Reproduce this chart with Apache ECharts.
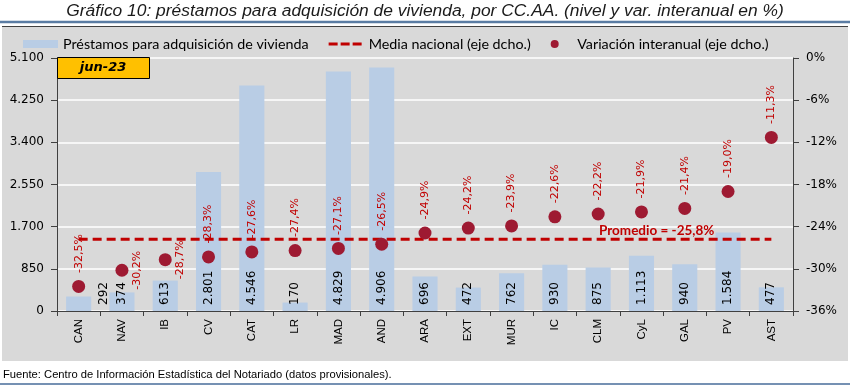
<!DOCTYPE html>
<html><head><meta charset="utf-8">
<script src="https://cdn.jsdelivr.net/npm/echarts@6/dist/echarts.min.js"></script>
<style>html,body{margin:0;padding:0;background:#fff}#c{width:850px;height:386px}</style>
</head><body><div id="c"></div>
<script>
const categories = ['CAN','NAV','IB','CV','CAT','LR','MAD','AND','ARA','EXT','MUR','IC','CLM','CyL','GAL','PV','AST'];
const prestamos = [292,374,613,2801,4546,170,4829,4906,696,472,762,930,875,1113,940,1584,477];
const variacion = [-32.5,-30.2,-28.7,-28.3,-27.6,-27.4,-27.1,-26.5,-24.9,-24.2,-23.9,-22.6,-22.2,-21.9,-21.4,-19.0,-11.3];
const mediaNacional = -25.8;
const leftTicks = {min:0, max:5100, interval:850};
const rightTicks = {min:-36, max:0, interval:6};

const fmtThousands = v => String(v).replace(/\B(?=(\d{3})+(?!\d))/g, '.');
const fmtPct = v => v.toFixed(1).replace('.', ',') + '%';
const RED = '#c00000', DOT = '#9e1a32', BAR = '#b9cde5';

const chart = echarts.init(document.getElementById('c'), null, {renderer:'canvas'});

const barData = prestamos.map((v,i) => i === 0
  ? {value:v, label:{offset:[0,25]}}
  : v);
const dotData = variacion.map((v,i) => (i === 1 || i === 2)
  ? {value:v, label:{position:'right', distance:3, align:'center', verticalAlign:'top'}}
  : v);

const dashIcon = 'path://M0,0h0.01v8h-0.01z M0,2.5h9v3h-9z M12,2.5h9v3h-9z M24,2.5h9v3h-9z M34.99,0h0.01v8h-0.01z';

chart.setOption({
  animation:false,
  backgroundColor:'#ffffff',
  graphic:[
    {type:'rect', shape:{x:2,y:26,width:846,height:335}, style:{fill:'#d9d9d9'}, z:-10, silent:true},
    {type:'line', shape:{x1:2,y1:26.5,x2:848,y2:26.5}, style:{stroke:'#404040', lineWidth:1}, z:-9},
    {type:'line', shape:{x1:0,y1:22,x2:850,y2:22}, style:{stroke:'#5a7ca3', lineWidth:2.5}},
    {type:'line', shape:{x1:0,y1:384,x2:850,y2:384}, style:{stroke:'#7591b3', lineWidth:2}},
    {type:'text', left:'center', top:3, style:{text:'Gráfico 10: préstamos para adquisición de vivienda, por CC.AA. (nivel y var. interanual en %)', font:'italic 17.4px "Liberation Sans Narrow", "Liberation Sans", Arial', fill:'#1a1a1a'}},
    {type:'text', left:3, top:369, style:{text:'Fuente: Centro de Información Estadística del Notariado (datos provisionales).', font:'11.2px "Liberation Sans Narrow", "Liberation Sans", Arial', fill:'#000'}},
    {type:'rect', shape:{x:57.5,y:57.5,width:92,height:21}, style:{fill:'#ffc000', stroke:'#000', lineWidth:1}, z:10},
    {type:'text', x:103, y:68, style:{text:'jun-23', font:'italic bold 13px "DejaVu Sans", Verdana', fill:'#000', align:'center', verticalAlign:'middle'}, z:11}
  ],
  legend:{
    top:32, left:18, itemWidth:35, itemHeight:8, itemGap:20,
    textStyle:{fontFamily:'Lato', fontSize:14.3, color:'#000'},
    data:[
      {name:'Préstamos para adquisición de vivienda', icon:'rect'},
      {name:'Media nacional (eje dcho.)', icon:dashIcon, itemStyle:{color:RED}},
      {name:'Variación interanual (eje dcho.)', icon:'circle', itemStyle:{color:DOT}}
    ]
  },
  grid:{left:57, right:57, top:58, bottom:75},
  xAxis:{
    type:'category', data:categories, boundaryGap:true,
    axisLine:{lineStyle:{color:'#404040', width:1}},
    axisTick:{show:true, alignWithLabel:false, length:5, lineStyle:{color:'#404040'}},
    axisLabel:{rotate:90, margin:8, fontFamily:'"Liberation Sans", Arial', fontSize:11.5, color:'#000', interval:0}
  },
  yAxis:[
    {type:'value', ...leftTicks, position:'left',
     axisLine:{show:true, lineStyle:{color:'#404040'}},
     axisTick:{show:true, length:6, lineStyle:{color:'#404040'}},
     axisLabel:{formatter:fmtThousands, fontFamily:'"DejaVu Sans", Tahoma', fontSize:12, color:'#000', margin:13},
     splitLine:{show:true, lineStyle:{color:'#ffffff', width:1.5}}},
    {type:'value', ...rightTicks, position:'right',
     axisLine:{show:true, lineStyle:{color:'#404040'}},
     axisTick:{show:true, length:6, lineStyle:{color:'#404040'}},
     axisLabel:{formatter:v => v + '%', fontFamily:'"DejaVu Sans", Tahoma', fontSize:12, color:'#000', margin:13},
     splitLine:{show:false}}
  ],
  series:[
    {name:'Préstamos para adquisición de vivienda', type:'bar', yAxisIndex:0, data:barData,
     barWidth:'58%', itemStyle:{color:BAR}, z:2,
     label:{show:true, position:'insideBottom', rotate:90, align:'left', verticalAlign:'middle', distance:6,
            formatter:p => fmtThousands(p.value), fontFamily:'"DejaVu Sans", Tahoma', fontSize:12, color:'#000'}},
    {name:'Media nacional (eje dcho.)', type:'line', yAxisIndex:1, z:3,
     data:[{value:[categories[0], mediaNacional], label:{show:false}},
           {value:[categories[categories.length-1], mediaNacional],
            label:{show:true, position:'left', distance:0, offset:[-57,-9], formatter:'Promedio = -25,8%',
                   fontFamily:'Lato', fontWeight:'bold', fontSize:13.5, color:RED}}],
     symbol:'circle', symbolSize:0.01, showSymbol:true, itemStyle:{color:RED},
     lineStyle:{color:RED, width:3, type:[9,5]}},
    {name:'Variación interanual (eje dcho.)', type:'scatter', yAxisIndex:1, data:dotData, z:4,
     symbolSize:13, itemStyle:{color:DOT, opacity:1},
     label:{show:true, position:'top', rotate:90, align:'left', verticalAlign:'middle', distance:7,
            formatter:p => fmtPct(p.value), fontFamily:'"DejaVu Sans", Tahoma', fontSize:11, color:RED}}
  ]
});
</script></body></html>
